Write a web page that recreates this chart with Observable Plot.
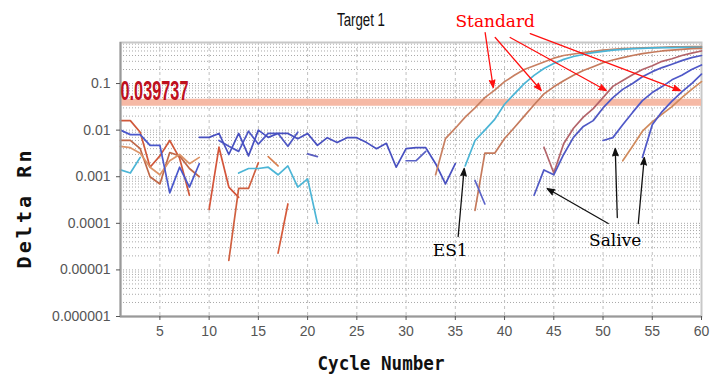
<!DOCTYPE html>
<html><head><meta charset="utf-8">
<script src="https://cdn.jsdelivr.net/npm/d3@7"></script>
<script src="https://cdn.jsdelivr.net/npm/@observablehq/plot@0.6"></script>
<style>body{margin:0;background:#fff}</style>
</head><body><div id="chart"></div>
<script>
// ---- data (cycle start + Delta Rn values per cycle) ----
const threshold = 0.039737;
const blueA = [0.010, 0.008, 0.008, 0.0047, 0.0047, 0.00045, 0.0016, 0.0006, 0.0019];            // c1..
const redO1 = [0.016, 0.016, 0.009, 0.0016, 0.0028, 0.006, 0.0025, 0.0004];                     // c1..
const brownO2 = [0.006, 0.006, 0.004, 0.001, 0.0007, 0.0033, 0.0028, 0.0015, 0.001];            // c1..
const orangeO3 = [0.0045, 0.0042, 0.0032, 0.0016, 0.0011, 0.0022, 0.003, 0.0019, 0.0026];       // c1..
const cyanC0 = [0.0014, 0.0012, 0.0026];                                                        // c1..
const blueB1 = [0.007, 0.007, 0.0085, 0.003, 0.0085, 0.0028, 0.010, 0.007, 0.0085, 0.0085, 0.0065, 0.0085, 0.0047, 0.0069, 0.0054, 0.0069, 0.0069, 0.0054, 0.004, 0.0052, 0.0016, 0.004, 0.0042, 0.0042, 0.0019, 0.0007, 0.0019]; // c9..
const blueB2 = [0.006, 0.0045, 0.0035, 0.0095, 0.005, 0.0085, 0.0085, 0.0045, 0.009];           // c11..
const blueD1 = [0.0031, 0.0027];                                                                // c20..
const blueD2 = [0.0022, 0.0022, 0.0035];                                                        // c30..
const cyanC1 = [0.0012, 0.0015, 0.0015, 0.0016, 0.0011, 0.0017, 0.0006, 0.0009, 0.0001];       // c13..
const redO4 = [0.0002, 0.0043, 0.0006, 0.00036];                                                // c10..
const redO5 = [0.000016, 0.00056, 0.00056, 0.002];                                              // c12..
const orangeO6 = [0.0027, 0.0017];                                                              // c16..
const redO7 = [0.000023, 0.00026];                                                              // c17..
const blueD3 = [0.00083, 0.00026];                                                              // c37..
const std1 = [0.0011, 0.0066, 0.011, 0.019, 0.03, 0.05, 0.072, 0.11, 0.15, 0.2, 0.24, 0.29, 0.35, 0.40, 0.43, 0.46, 0.49, 0.52, 0.54, 0.56, 0.57, 0.58, 0.59, 0.60, 0.61, 0.61, 0.62, 0.62]; // c33..
const es1 = [0.0017, 0.006, 0.010, 0.017, 0.036, 0.06, 0.10, 0.15, 0.21, 0.27, 0.33, 0.38, 0.42, 0.46, 0.49, 0.52, 0.54, 0.56, 0.57, 0.58, 0.59, 0.59, 0.60, 0.60, 0.60]; // c36..
const std2 = [0.00019, 0.0032, 0.0032, 0.0066, 0.0114, 0.02, 0.035, 0.06, 0.085, 0.115, 0.15, 0.19, 0.23, 0.28, 0.32, 0.36, 0.40, 0.44, 0.47, 0.50, 0.52, 0.54, 0.56, 0.57]; // c37..
const std3 = [0.0043, 0.0012, 0.0051, 0.011, 0.019, 0.029, 0.05, 0.087, 0.116, 0.155, 0.2, 0.24, 0.3, 0.34, 0.40, 0.45, 0.50]; // c44..
const salive1 = [0.0004, 0.0014, 0.0011, 0.003, 0.007, 0.012, 0.016, 0.03, 0.05, 0.075, 0.10, 0.14, 0.18, 0.22, 0.26, 0.31, 0.36, 0.40]; // c43..
const salive2 = [0.006, 0.0069, 0.013, 0.024, 0.043, 0.064, 0.086, 0.12, 0.15, 0.2, 0.25];     // c50..
const salive3 = [0.0026, 0.013, 0.025, 0.042, 0.066, 0.10, 0.16];                               // c54..
const std4 = [0.0022, 0.0045, 0.0095, 0.015, 0.022, 0.032, 0.05, 0.075, 0.11];                  // c52..

const seriesList = [
  {name: "redO1", start: 1, values: redO1},
  {name: "brownO2", start: 1, values: brownO2},
  {name: "orangeO3", start: 1, values: orangeO3},
  {name: "cyanC0", start: 1, values: cyanC0},
  {name: "blueA", start: 1, values: blueA},
  {name: "redO4", start: 10, values: redO4},
  {name: "redO5", start: 12, values: redO5},
  {name: "orangeO6", start: 16, values: orangeO6},
  {name: "redO7", start: 17, values: redO7},
  {name: "cyanC1", start: 13, values: cyanC1},
  {name: "blueB2", start: 11, values: blueB2},
  {name: "blueB1", start: 9, values: blueB1},
  {name: "blueD1", start: 20, values: blueD1},
  {name: "blueD2", start: 30, values: blueD2},
  {name: "std1", start: 33, values: std1},
  {name: "es1", start: 36, values: es1},
  {name: "std2", start: 37, values: std2},
  {name: "blueD3", start: 37, values: blueD3},
  {name: "std3", start: 44, values: std3},
  {name: "salive1", start: 43, values: salive1},
  {name: "std4", start: 52, values: std4},
  {name: "salive2", start: 50, values: salive2},
  {name: "salive3", start: 54, values: salive3}
];

const xTickValues = [5, 10, 15, 20, 25, 30, 35, 40, 45, 50, 55, 60];
const yTickValues = [0.000001, 0.00001, 0.0001, 0.001, 0.01, 0.1];
const yTickLabels = ["0.000001", "0.00001", "0.0001", "0.001", "0.01", "0.1"];

// annotations (cycle, Delta Rn)
const labelNotes = [
  {text: "Standard", cycle: 39.05, value: 2.09, color: "red"},
  {text: "ES1", cycle: 34.48, value: 2.55e-5, color: "black"},
  {text: "Salive", cycle: 51.24, value: 4.17e-5, color: "black"}
];
const standardArrows = [
  {c1: 38.03, v1: 1.243, c2: 38.85, v2: 0.0821},
  {c1: 39.05, v1: 0.971, c2: 43.72, v2: 0.0708},
  {c1: 40.57, v1: 0.971, c2: 50.33, v2: 0.0708},
  {c1: 42.61, v1: 1.183, c2: 57.85, v2: 0.0708}
];
const blackArrows = [
  {c1: 35.29, v1: 5.21e-5, c2: 35.90, v2: 0.0015},
  {c1: 50.53, v1: 9.9e-5, c2: 44.33, v2: 0.000558},
  {c1: 51.45, v1: 1.33e-4, c2: 51.24, v2: 0.00403},
  {c1: 53.58, v1: 9.9e-5, c2: 54.19, v2: 0.00258}
];

// ---- styling ----
const seriesColor = {
  redO1: "#d0583a", brownO2: "#c06848", orangeO3: "#dc9468", cyanC0: "#4bb5d6", blueA: "#4a58cc",
  redO4: "#d4553a", redO5: "#d06040", orangeO6: "#d98050", redO7: "#d55a3a", cyanC1: "#4bb5d6",
  blueB2: "#4f58c4", blueB1: "#4850c0", blueD1: "#5a5ec0", blueD2: "#5a62c6",
  std1: "#c98062", es1: "#4bb5d6", std2: "#c57a5c", blueD3: "#5a62c8",
  std3: "#b3646a", salive1: "#4f58c4", std4: "#d08a5c", salive2: "#4f58c8", salive3: "#4f58c8"
};

const rows = seriesList.flatMap(s => s.values.map((v, i) => ({series: s.name, cycle: s.start + i, value: v})));
const gridValues = d3.range(-6, 0).flatMap(k => d3.range(1, 10).map(m => m * Math.pow(10, k))).filter(v => v <= 0.76);

const narrow = "'Liberation Sans Narrow', 'Arial Narrow', 'Liberation Sans', sans-serif";
const serif = "'DejaVu Serif', 'Liberation Serif', serif";
const mono = "'DejaVu Sans Mono', 'Liberation Mono', monospace";

const chart = Plot.plot({
  width: 718, height: 376,
  marginLeft: 120, marginRight: 17, marginTop: 42, marginBottom: 60,
  x: {domain: [1, 60], label: null},
  y: {type: "log", domain: [1e-6, 0.76], label: null},
  color: {type: "identity"},
  style: {background: "#fff", fontFamily: "'Liberation Sans', Arial, sans-serif"},
  marks: [
    Plot.ruleY(gridValues, {stroke: "#a8a8a8", strokeDasharray: "1,2", strokeWidth: 1}),
    Plot.ruleX(xTickValues, {stroke: "#c0c0c0", strokeDasharray: "3,3", strokeWidth: 1}),
    Plot.frame({stroke: "#c8c8c8", strokeWidth: 2}),
    Plot.ruleY([threshold], {stroke: "#f6b9a5", strokeWidth: 7}),
    Plot.line(rows, {x: "cycle", y: "value", z: "series", stroke: d => seriesColor[d.series], strokeWidth: 1.7, strokeLinejoin: "round"}),
    Plot.ruleX([1], {stroke: "#999", strokeWidth: 2}),
    Plot.ruleY([1e-6], {stroke: "#999", strokeWidth: 2}),
    Plot.axisY(yTickValues, {tickFormat: d => yTickLabels[yTickValues.indexOf(d)], fontSize: 14, color: "#555", tickSize: 4, tickPadding: 6, label: null}),
    Plot.axisX(xTickValues, {tickFormat: d => String(d), fontSize: 14, fontFamily: narrow, color: "#555", tickSize: 4, tickPadding: 6, label: null}),
    Plot.text([threshold], {x: () => 1, y: d => d, text: () => "0.039737", textAnchor: "start", lineAnchor: "bottom", dy: -2, fontSize: 28, fontWeight: "bold", fontFamily: narrow, fill: "#c0101e"}),
    Plot.text(["Target 1"], {frameAnchor: "top", textAnchor: "middle", lineAnchor: "top", dx: -50, dy: -29, fontSize: 18, fontFamily: narrow, fill: "#111"}),
    Plot.text(["Delta Rn"], {frameAnchor: "left", textAnchor: "middle", lineAnchor: "middle", rotate: -90, dx: -96, dy: 30, fontSize: 20, fontWeight: "bold", fontFamily: mono, fill: "#111"}),
    Plot.text(["Cycle Number"], {frameAnchor: "bottom", textAnchor: "middle", lineAnchor: "middle", dx: -30, dy: 47, fontSize: 20, fontWeight: "bold", fontFamily: mono, fill: "#111"}),
    Plot.arrow(standardArrows, {x1: "c1", y1: "v1", x2: "c2", y2: "v2", stroke: "#ff1010", fill: "#ff1010", strokeWidth: 1.3, headLength: 9, headAngle: 40}),
    Plot.arrow(blackArrows, {x1: "c1", y1: "v1", x2: "c2", y2: "v2", stroke: "#111", fill: "#111", strokeWidth: 1.3, headLength: 9, headAngle: 40}),
    Plot.text(labelNotes, {x: "cycle", y: "value", text: "text", fill: "color", fontSize: 17, fontFamily: serif, textAnchor: "middle", lineAnchor: "middle"})
  ]
});

// condensed text fitting
const fits = {"0.039737": [68, "spacingAndGlyphs"], "Target 1": [48, "spacingAndGlyphs"], "Delta Rn": [118, "spacing"], "Cycle Number": [127, "spacingAndGlyphs"]};
chart.querySelectorAll("text").forEach(t => {
  const f = fits[t.textContent];
  if (f) { t.setAttribute("textLength", f[0]); t.setAttribute("lengthAdjust", f[1]); }
});
document.getElementById("chart").appendChild(chart);
</script>
</body></html>
